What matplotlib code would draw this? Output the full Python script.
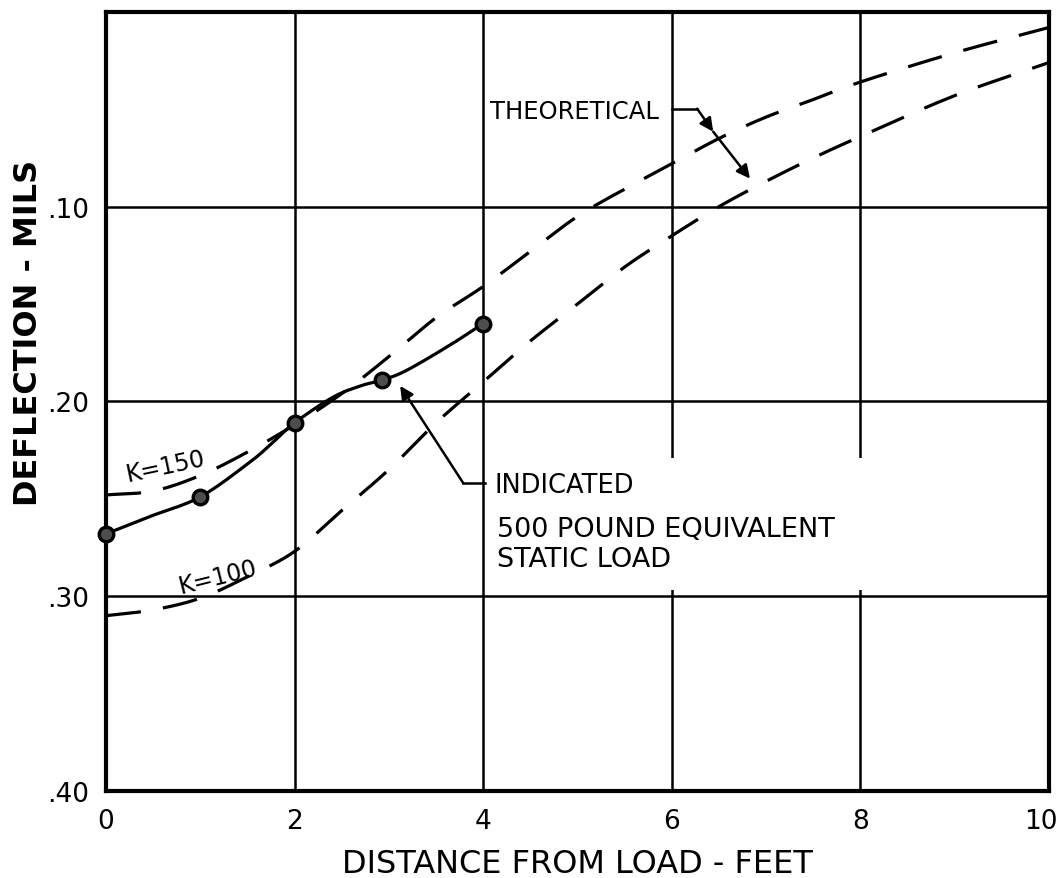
"""Deflection basin: indicated vs theoretical deflection with distance from load."""

import matplotlib

matplotlib.use("Agg")
import matplotlib.pyplot as plt
import numpy as np
from matplotlib.patches import Rectangle
from matplotlib.transforms import ScaledTranslation

plt.rcParams["font.family"] = ["DejaVu Sans"]

# Measured (indicated) deflections, 500 lb equivalent static load
indicated_x = [0.0, 1.0, 2.0, 2.93, 4.0]
indicated_y = [0.268, 0.249, 0.211, 0.189, 0.160]

# Hand-faired curve through the measured points
indicated_curve_x = [0.0, 0.47, 1.0, 1.53, 1.77, 2.0, 2.4, 2.7, 2.93, 3.19, 3.65, 4.0]
indicated_curve_y = [0.268, 0.259, 0.249, 0.231, 0.221, 0.211, 0.198, 0.192, 0.189, 0.184, 0.171, 0.160]

# Theoretical curves
theory_x = [0.0, 0.5, 1.0, 1.5, 2.0, 2.5, 3.0, 3.5, 4.0, 4.5, 5.0, 5.5, 6.0, 6.5, 7.0, 7.5, 8.0, 9.0, 10.0]
theory_k150 = [0.248, 0.246, 0.238, 0.226, 0.212, 0.196, 0.177, 0.157, 0.141, 0.123, 0.105, 0.091,
               0.078, 0.065, 0.054, 0.045, 0.036, 0.021, 0.008]
theory_k100 = [0.310, 0.307, 0.301, 0.290, 0.277, 0.256, 0.235, 0.211, 0.190, 0.169, 0.150, 0.131,
               0.115, 0.100, 0.087, 0.075, 0.064, 0.043, 0.026]

x_ticks = [0, 2, 4, 6, 8, 10]
x_tick_labels = ["0", "2", "4", "6", "8", "10"]
y_ticks = [0.10, 0.20, 0.30, 0.40]
y_tick_labels = [".10", ".20", ".30", ".40"]


def faired(xs, ys, steps=12):
    """Catmull-Rom path through the given points, like a French curve."""
    p = np.column_stack([xs, ys]).astype(float)
    p = np.vstack([2 * p[0] - p[1], p, 2 * p[-1] - p[-2]])
    out = []
    t = np.linspace(0, 1, steps, endpoint=False)[:, None]
    for i in range(1, len(p) - 2):
        p0, p1, p2, p3 = p[i - 1], p[i], p[i + 1], p[i + 2]
        seg = 0.5 * ((2 * p1) + (-p0 + p2) * t + (2 * p0 - 5 * p1 + 4 * p2 - p3) * t ** 2
                     + (-p0 + 3 * p1 - 3 * p2 + p3) * t ** 3)
        out.append(seg)
    out.append(p[-2][None, :])
    out = np.vstack(out)
    return out[:, 0], out[:, 1]


fig = plt.figure(figsize=(10.63, 8.79), dpi=100)
ax = fig.add_axes([0.0997, 0.099, 0.887, 0.8863])

ax.set_xlim(0, 10)
ax.set_ylim(0.40, 0.0)

ax.set_xticks(x_ticks)
ax.set_xticklabels(x_tick_labels, fontsize=19)
ax.set_yticks(y_ticks)
ax.set_yticklabels(y_tick_labels, fontsize=19)
ax.tick_params(length=0, pad=12)
last = ax.get_xticklabels()[-1]
last.set_transform(last.get_transform() + ScaledTranslation(-8 / 100, 0, fig.dpi_scale_trans))

ax.set_axisbelow(True)
ax.grid(True, color="black", linewidth=1.8)
for spine in ax.spines.values():
    spine.set_linewidth(3.0)

# blank out the grid behind the notes
ax.add_patch(Rectangle((4.08, 0.229), 5.2, 0.068, facecolor="white", edgecolor="none", zorder=1))

dash = (0, (11, 7))
ax.plot(*faired(theory_x, theory_k150), color="black", linewidth=2.3, linestyle=dash, zorder=2)
ax.plot(*faired(theory_x, theory_k100), color="black", linewidth=2.3, linestyle=dash, zorder=2)

ax.plot(*faired(indicated_curve_x, indicated_curve_y), color="black", linewidth=2.3, zorder=3)
ax.plot(indicated_x, indicated_y, linestyle="none", marker="o", markersize=10.5,
        markerfacecolor="0.3", markeredgecolor="black", markeredgewidth=2.4,
        clip_on=False, zorder=4)

# curve labels
ax.text(0.63, 0.233, "K=150", fontsize=17, rotation=12, ha="center", va="center")
ax.text(1.19, 0.290, "K=100", fontsize=17, rotation=14, ha="center", va="center")

arrow = dict(arrowstyle="-|>", color="black", linewidth=1.8, mutation_scale=20,
             shrinkA=0, shrinkB=0)

# THEORETICAL leader with two arrowheads
ax.text(4.07, 0.051, "THEORETICAL", fontsize=17.5, ha="left", va="center")
ax.plot([6.0, 6.27], [0.0497, 0.0497], color="black", linewidth=1.8)
ax.annotate("", xy=(6.44, 0.0615), xytext=(6.27, 0.0497), arrowprops=arrow)
ax.annotate("", xy=(6.83, 0.0856), xytext=(6.44, 0.0615), arrowprops=arrow)

# INDICATED leader
ax.text(4.12, 0.243, "INDICATED", fontsize=18.5, ha="left", va="center", zorder=5)
ax.plot([4.02, 3.79], [0.242, 0.242], color="black", linewidth=1.8)
ax.annotate("", xy=(3.12, 0.192), xytext=(3.79, 0.242), arrowprops=arrow)

ax.text(4.15, 0.273, "500 POUND EQUIVALENT\nSTATIC LOAD", fontsize=19.5, ha="left", va="center",
        linespacing=1.2, zorder=5)

ax.set_xlabel("DISTANCE FROM LOAD - FEET", fontsize=23, labelpad=10)
ax.set_ylabel("DEFLECTION - MILS", fontsize=23, fontweight="bold")
ax.yaxis.set_label_coords(-0.066, 0.589)

fig.savefig("out.png", dpi=100)
